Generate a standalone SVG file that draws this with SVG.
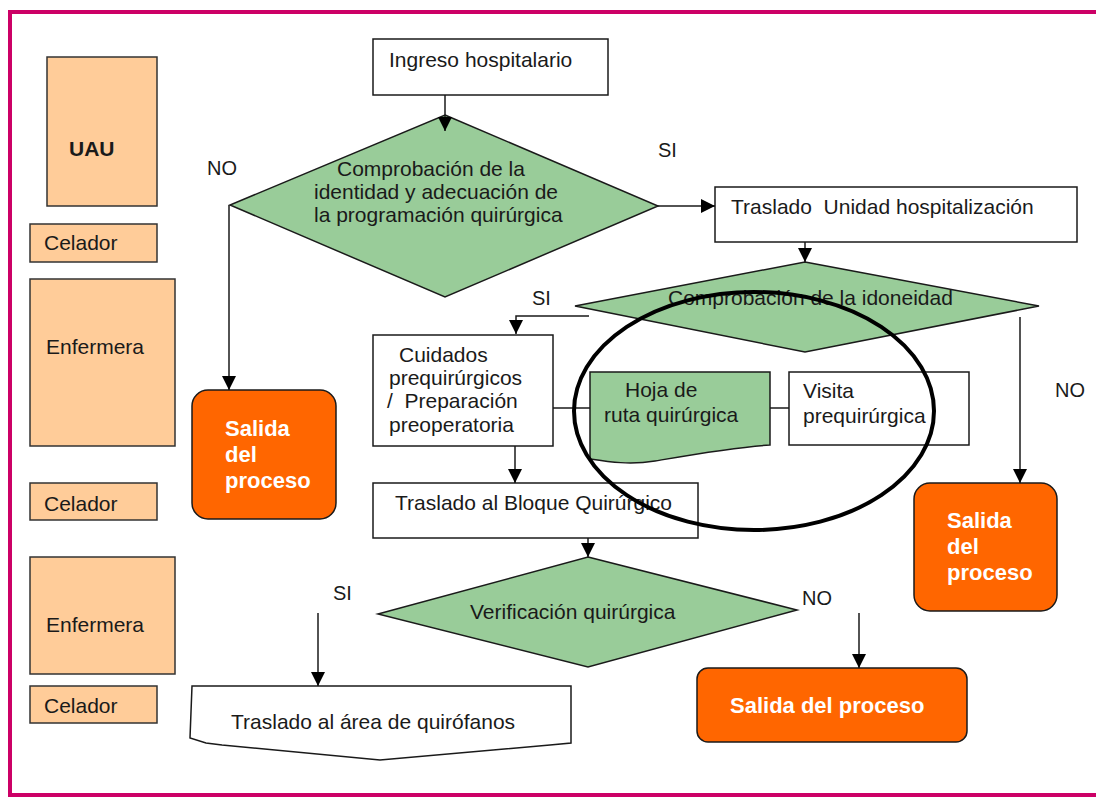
<svg xmlns="http://www.w3.org/2000/svg" width="1096" height="799" viewBox="0 0 1096 799">
<style>
text{font-family:"Liberation Sans",Arial,sans-serif;font-size:21px;fill:#1a1a1a}
.lbl{font-size:20px}
.wt{fill:#ffffff;font-weight:bold;font-size:22px}
.peach{fill:#FFCC99;stroke:#333;stroke-width:1.5}
.box{fill:#ffffff;stroke:#1a1a1a;stroke-width:1.5}
.dia{fill:#99CC99;stroke:#1a1a1a;stroke-width:1.5}
.out{fill:#FF6600;stroke:#1a1a1a;stroke-width:1.5}
.ln{fill:none;stroke:#1a1a1a;stroke-width:1.5}
.arr{fill:none;stroke:#1a1a1a;stroke-width:1.5;marker-end:url(#ah)}
</style>
<defs>
<marker id="ah" viewBox="0 0 14 14" refX="14" refY="7" markerWidth="14" markerHeight="14" markerUnits="userSpaceOnUse" orient="auto">
<path d="M0,0 L14,7 L0,14 Z" fill="#000"/>
</marker>
</defs>
<rect width="1096" height="799" fill="#ffffff"/>
<path d="M1100,12 H10 V795 H1100" fill="none" stroke="#CC0066" stroke-width="4"/>

<g id="lane-uau"><rect class="peach" x="47" y="57" width="110" height="149"/><text x="69" y="156" font-weight="bold">UAU</text></g>
<g id="lane-celador1"><rect class="peach" x="30" y="224" width="127" height="38"/><text x="44" y="250">Celador</text></g>
<g id="lane-enfermera1"><rect class="peach" x="30" y="279" width="145" height="167"/><text x="46" y="354">Enfermera</text></g>
<g id="lane-celador2"><rect class="peach" x="30" y="483" width="127" height="37"/><text x="44" y="511">Celador</text></g>
<g id="lane-enfermera2"><rect class="peach" x="30" y="557" width="145" height="117"/><text x="46" y="632">Enfermera</text></g>
<g id="lane-celador3"><rect class="peach" x="30" y="686" width="127" height="37"/><text x="44" y="713">Celador</text></g>

<g id="ingreso"><rect class="box" x="373" y="39" width="235" height="56"/><text x="389" y="67">Ingreso hospitalario</text></g>

<g id="comprobacion-identidad">
<polygon class="dia" points="445,115 658,206 445,297 230,205"/>
<text x="337" y="176">Comprobación de la</text>
<text x="314" y="199">identidad y adecuación de</text>
<text x="314" y="222">la programación quirúrgica</text>
</g>

<g id="traslado-unidad"><rect class="box" x="715" y="187" width="362" height="55"/><text x="731" y="214" xml:space="preserve">Traslado  Unidad hospitalización</text></g>

<g id="salida1"><rect class="out" x="192" y="390" width="144" height="129" rx="16"/><text class="wt" x="225" y="436">Salida</text><text class="wt" x="225" y="462">del</text><text class="wt" x="225" y="488">proceso</text></g>

<g id="comprobacion-idoneidad">
<polygon class="dia" points="805,262 1039,306 805,352 575,306"/>
<text x="668" y="305">Comprobación de la idoneidad</text>
</g>

<g id="cuidados"><rect class="box" x="373" y="335" width="180" height="111"/>
<text x="399" y="362">Cuidados</text><text x="389" y="385">prequirúrgicos</text><text x="387" y="408" xml:space="preserve">/  Preparación</text><text x="389" y="432">preoperatoria</text></g>

<g id="hoja-ruta"><path class="dia" d="M590,372 H770 V445 C735,447 690,455 655,461 C630,465 610,462 590,459 Z"/>
<text x="625" y="397">Hoja de</text><text x="604" y="422">ruta quirúrgica</text></g>

<g id="visita"><rect class="box" x="789" y="372" width="180" height="73"/><text x="803" y="398">Visita</text><text x="803" y="423">prequirúrgica</text></g>

<g id="salida2"><rect class="out" x="914" y="483" width="143" height="128" rx="16"/><text class="wt" x="947" y="528">Salida</text><text class="wt" x="947" y="554">del</text><text class="wt" x="947" y="580">proceso</text></g>

<g id="traslado-bloque"><rect class="box" x="373" y="483" width="325" height="55"/><text x="395" y="510">Traslado al Bloque Quirúrgico</text></g>

<g id="verificacion"><polygon class="dia" points="588,557 797,610 588,667 378,614"/><text x="470" y="619">Verificación quirúrgica</text></g>

<g id="traslado-quirofanos"><path class="box" d="M192,686 H571 V743 L550,745 L380,760 L222,745 L206,743 L190,738 Z"/><text x="231" y="729">Traslado al área de quirófanos</text></g>

<g id="salida3"><rect class="out" x="697" y="668" width="270" height="74" rx="11"/><text class="wt" x="730" y="713">Salida del proceso</text></g>

<g id="connectors">
<line class="arr" x1="445" y1="95" x2="445" y2="131"/>
<line class="arr" x1="658" y1="206" x2="715" y2="206"/>
<line class="arr" x1="229" y1="205" x2="229" y2="390"/>
<line class="arr" x1="805" y1="242" x2="805" y2="262"/>
<polyline class="arr" points="589,316 516,316 516,334"/>
<line class="arr" x1="1020" y1="317" x2="1020" y2="483"/>
<line class="ln" x1="553" y1="408" x2="590" y2="408"/>
<line class="ln" x1="770" y1="408" x2="789" y2="408"/>
<line class="arr" x1="515" y1="446" x2="515" y2="483"/>
<line class="arr" x1="588" y1="538" x2="588" y2="557"/>
<line class="arr" x1="318" y1="613" x2="318" y2="686"/>
<line class="arr" x1="859" y1="613" x2="859" y2="668"/>
</g>

<g id="labels">
<text class="lbl" x="207" y="175">NO</text>
<text class="lbl" x="658" y="157">SI</text>
<text class="lbl" x="532" y="305">SI</text>
<text class="lbl" x="1055" y="397">NO</text>
<text class="lbl" x="333" y="600">SI</text>
<text class="lbl" x="802" y="605">NO</text>
</g>

<ellipse id="highlight" cx="754" cy="411" rx="180" ry="119" fill="none" stroke="#000" stroke-width="4"/>
</svg>
